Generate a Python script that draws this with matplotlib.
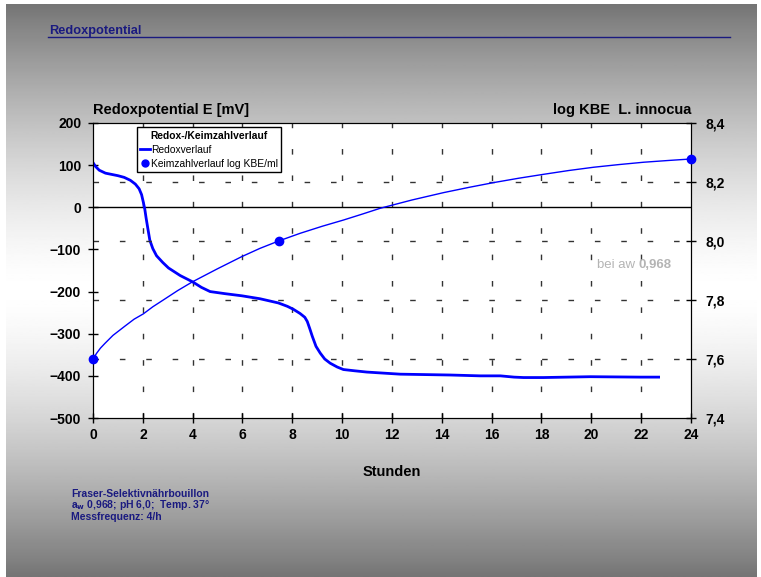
"""
Redoxpotential und Keimzahlverlauf L. innocua in Fraser-Selektivnaehrbouillon
"""
import numpy as np
import matplotlib
matplotlib.use('Agg')
import matplotlib.pyplot as plt

plt.rcParams['font.family'] = ['Liberation Sans', 'DejaVu Sans']

# Redoxverlauf (Stunden, mV)
redox_h = [0, 0.1, 0.25, 0.5, 0.75, 1.0, 1.25, 1.5, 1.7, 1.85, 1.95, 2.02,
           2.08, 2.13, 2.2, 2.28, 2.4, 2.55, 2.8, 3.03, 3.5, 4.0, 4.35, 4.7,
           5.3, 5.97, 6.7, 7.44, 7.8, 8.04, 8.31, 8.5, 8.6, 8.7, 8.8, 8.95,
           9.12, 9.3, 9.52, 9.8, 10.05, 10.5, 10.99, 12.33, 14.34, 15.54,
           16.35, 16.9, 17.28, 18.08, 19.96, 21.97, 22.7]
redox_mv = [106, 97, 88, 81, 78, 75, 71, 64, 55, 44, 30, 12,
            -5, -25, -50, -78, -98, -115, -131, -144, -162, -177, -190, -200,
            -205, -210, -217, -227, -235, -242, -252, -261, -271, -288, -306,
            -330, -346, -360, -370, -379, -385, -388, -391, -396, -398, -400,
            -400, -403, -404, -404, -402, -403, -403]

# Keimzahlverlauf (Stunden, log KBE/ml)
kbe_h = [0, 0.15, 0.3, 0.48, 0.8, 1.29, 1.65, 2.02, 2.4, 2.82, 3.4, 4.0, 5.0,
         5.97, 6.7, 7.45, 8.31, 9.2, 10.05, 10.8, 11.53, 12.8, 14.07, 15.1,
         16.08, 17.1, 18.08, 19.1, 20.09, 21.1, 22.1, 23.1, 24]
kbe_log = [7.60, 7.62, 7.637, 7.653, 7.68, 7.712, 7.735, 7.753, 7.777, 7.80,
           7.832, 7.862, 7.906, 7.947, 7.975, 8.0, 8.026, 8.05, 8.071, 8.091,
           8.111, 8.139, 8.164, 8.182, 8.198, 8.213, 8.226, 8.239, 8.25,
           8.259, 8.267, 8.273, 8.278]
kbe_mess_h = [0, 7.45, 24]
kbe_mess_log = [7.60, 8.0, 8.278]

x_ticks = list(range(0, 25, 2))
left_ticks = [200, 100, 0, -100, -200, -300, -400, -500]
right_ticks = [8.4, 8.2, 8.0, 7.8, 7.6, 7.4]

navy = '#1a1a80'
blue = '#0000ff'

fig = plt.figure(figsize=(7.61, 5.77), dpi=100, facecolor='white')

# grauer Verlauf im Hintergrund
bg = fig.add_axes([6 / 761, 0, 1 - 10 / 761, 1 - 4 / 577], zorder=-10)
t = np.linspace(0, 1, 400)
d = np.abs(t - 0.5) / 0.5
shade = 0.46 + 0.54 * (1 - d ** 1.5)
bg.imshow(shade[:, None], aspect='auto', cmap='gray', vmin=0, vmax=1,
          extent=[0, 1, 0, 1])
bg.set_axis_off()

ax = fig.add_axes([93 / 761, 1 - 418 / 577, 598 / 761, 295 / 577])
ax.set_facecolor('white')
ax2 = ax.twinx()

ax.set_xlim(0, 24)
ax.set_ylim(-500, 200)
ax2.set_ylim(7.4, 8.4)

# Raster: horizontal an rechter Achse, vertikal alle 2 h
for v in [8.2, 8.0, 7.8, 7.6]:
    ax2.axhline(v, color='#333333', lw=1, ls=(0, (4, 15)), zorder=0)
for h in x_ticks[1:-1]:
    ax.axvline(h, color='#333333', lw=1, ls=(0, (4, 15)), zorder=0)
ax.axhline(0, color='black', lw=1, zorder=1)

ax.plot(redox_h, redox_mv, color=blue, lw=2, label='Redoxverlauf', zorder=3)
ax2.plot(kbe_h, kbe_log, color=blue, lw=1, zorder=3)
ax2.plot(kbe_mess_h, kbe_mess_log, 'o', color=blue, ms=6, zorder=4,
         clip_on=False)

ax.set_xticks(x_ticks)
ax.set_yticks(left_ticks)
ax2.set_yticks(right_ticks)
ax2.set_yticklabels([f'{v:.1f}'.replace('.', ',') for v in right_ticks])

for a in (ax, ax2):
    a.tick_params(direction='inout', length=7, width=1, labelsize=10)
    for lbl in a.get_xticklabels() + a.get_yticklabels():
        lbl.set_fontweight('bold')
ax.tick_params(axis='x', pad=4)
ax.tick_params(axis='y', pad=5)
ax2.tick_params(axis='y', pad=7)

ax.set_xlabel('Stunden', fontsize=10.5, fontweight='bold', labelpad=16)
ax.text(0, 1.02, 'Redoxpotential E [mV]', transform=ax.transAxes,
        fontsize=10.5, fontweight='bold', va='bottom', ha='left')
ax.text(1, 1.02, 'log KBE  L. innocua', transform=ax.transAxes,
        fontsize=10.5, fontweight='bold', va='bottom', ha='right')

# Legende
kbe_handle, = ax.plot([], [], color=blue, marker='o', ls='none', ms=5,
                      label='Keimzahlverlauf log KBE/ml')
leg = ax.legend(loc='upper left', bbox_to_anchor=(0.073, 0.985),
                title='Redox-/Keimzahlverlauf', fontsize=7.4,
                title_fontproperties={'weight': 'bold', 'size': 7.4},
                frameon=True, fancybox=False, framealpha=1,
                edgecolor='black', handlelength=1.0, handletextpad=0.1,
                borderpad=0.3, labelspacing=0.4, borderaxespad=0)
leg.get_frame().set_linewidth(1)
leg.set_zorder(5)

ax.text(21.9, -137, 'bei aw ', color='#b4b4b4', fontsize=9.5,
        ha='right', va='center')
ax.text(21.9, -137, '0,968', color='#b4b4b4', fontsize=9.5,
        fontweight='bold', ha='left', va='center')

# Kopfzeile
fig.text(49 / 761, 1 - 31 / 577, 'Redoxpotential', color=navy, fontsize=9.2,
         fontweight='bold', ha='left', va='center')
fig.add_artist(plt.Line2D([48 / 761, 730 / 761], [1 - 37 / 577, 1 - 37 / 577],
                          color=navy, lw=1))

# Versuchsbedingungen
notes = ['Fraser-Selektivnährbouillon',
         r'a$_\mathbf{w}$ 0,968; pH 6,0;  Temp. 37°',
         'Messfrequenz: 4/h']
for i, s in enumerate(notes):
    fig.text(71 / 761, 1 - (494 + 11.5 * i) / 577, s, color=navy,
             fontsize=7.5, fontweight='bold', ha='left', va='center')

fig.savefig('out.png', dpi=100, facecolor=fig.get_facecolor())
